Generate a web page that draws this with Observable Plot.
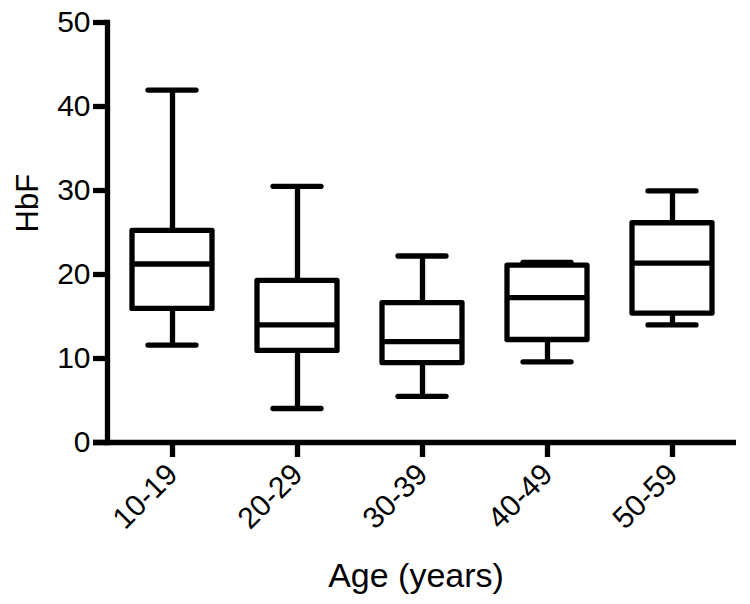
<!DOCTYPE html>
<html><head><meta charset="utf-8">
<script src="https://cdn.jsdelivr.net/npm/d3@7"></script>
<script src="https://cdn.jsdelivr.net/npm/@observablehq/plot@0.6"></script>
<style>body{margin:0;background:#fff}</style>
</head><body><div id="chart"></div>
<script>
const ages = ["10-19", "20-29", "30-39", "40-49", "50-59"];
const whiskerLow = [11.6, 4.05, 5.5, 9.6, 14.0];
const q1 = [15.9, 10.9, 9.45, 12.2, 15.35];
const median = [21.25, 14.0, 12.0, 17.25, 21.35];
const q3 = [25.2, 19.25, 16.6, 21.05, 26.1];
const whiskerHigh = [41.95, 30.5, 22.2, 21.45, 29.95];
const yTicks = [0, 10, 20, 30, 40, 50];
const yLabel = "HbF";
const xLabel = "Age (years)";

const data = ages.map((age, i) => ({age, lo: whiskerLow[i], q1: q1[i], med: median[i], q3: q3[i], hi: whiskerHigh[i]}));

const sw = 5.3;
const chart = Plot.plot({
  width: 750, height: 604,
  marginLeft: 107, marginRight: 14, marginTop: 22, marginBottom: 162,
  style: {fontFamily: "'Liberation Sans', Arial, sans-serif", background: "white", color: "black"},
  x: {domain: ages, paddingInner: 0.364, paddingOuter: 0.182},
  y: {domain: [0, 50]},
  marks: [
    Plot.ruleX(data, {x: "age", y1: "q3", y2: "hi", stroke: "black", strokeWidth: sw}),
    Plot.ruleX(data, {x: "age", y1: "lo", y2: "q1", stroke: "black", strokeWidth: sw}),
    Plot.tickY(data, {x: "age", y: "hi", inset: 16, stroke: "black", strokeWidth: sw, strokeLinecap: "round"}),
    Plot.tickY(data, {x: "age", y: "lo", inset: 16, stroke: "black", strokeWidth: sw, strokeLinecap: "round"}),
    Plot.barY(data, {x: "age", y1: "q1", y2: "q3", fill: "white", stroke: "black", strokeWidth: sw, strokeLinejoin: "round"}),
    Plot.tickY(data, {x: "age", y: "med", stroke: "black", strokeWidth: sw}),
    Plot.axisY({ticks: yTicks, tickSize: 14, tickPadding: 3, fontSize: 30, strokeWidth: sw, label: null, tickFormat: d => d}),
    Plot.axisX({tickSize: 15, tickPadding: 12, tickRotate: -45, fontSize: 30, strokeWidth: sw, label: null}),
    Plot.ruleY([0], {stroke: "black", strokeWidth: sw, insetLeft: -14}),
    Plot.frame({anchor: "left", stroke: "black", strokeWidth: sw}),
    Plot.text([yLabel], {frameAnchor: "left", rotate: -90, dx: -79, fontSize: 31, text: d => d}),
    Plot.text([xLabel], {frameAnchor: "bottom", lineAnchor: "middle", dy: 134, dx: -6, fontSize: 34, text: d => d})
  ]
});
document.getElementById("chart").appendChild(chart);
</script>
</body></html>
